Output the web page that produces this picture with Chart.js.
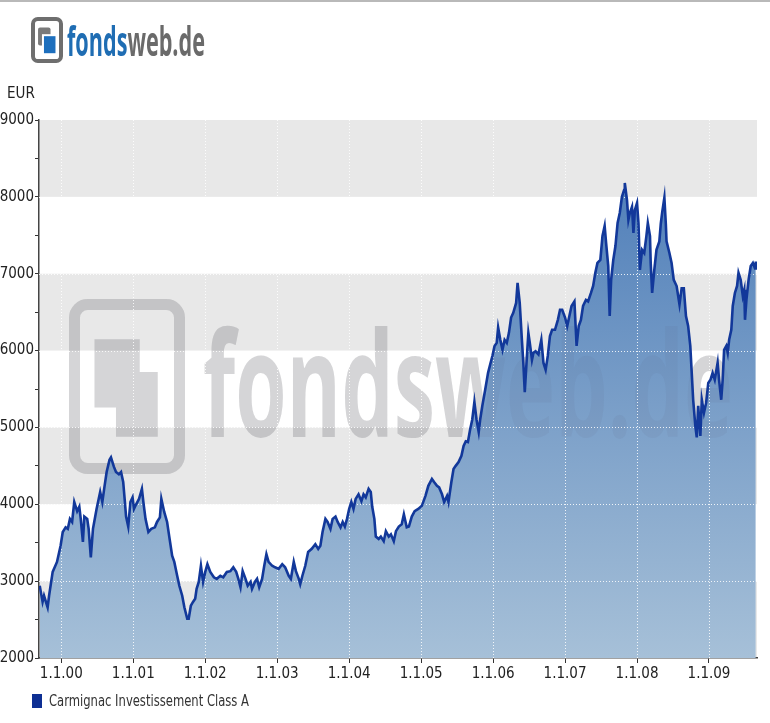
<!DOCTYPE html>
<html>
<head>
<meta charset="utf-8">
<script src="https://cdn.jsdelivr.net/npm/chart.js@4.4.0/dist/chart.umd.min.js"></script>
<style>
  html, body { margin: 0; padding: 0; background: #fff; }
  #wrap { width: 770px; height: 723px; position: relative; }
</style>
</head>
<body>
<div id="wrap"><canvas id="fundChart"></canvas></div>
<script>
var fundName = "Carmignac Investissement Class A";
var currencyLabel = "EUR";
var brandText = ["fonds", "web.de"];
var yearTicks = [2000, 2001, 2002, 2003, 2004, 2005, 2006, 2007, 2008, 2009];

// decimal years
var dates = [
  1999.70,1999.74,1999.76,1999.81,1999.83,1999.88,1999.94,1999.99,
  2000.02,2000.06,2000.09,2000.12,2000.15,2000.18,2000.22,2000.25,2000.27,2000.30,2000.32,2000.36,2000.38,2000.41,2000.44,2000.49,2000.54,2000.57,2000.60,2000.63,2000.67,2000.69,2000.73,2000.76,2000.80,2000.83,2000.86,2000.88,2000.90,2000.93,2000.96,2000.99,
  2001.01,2001.04,2001.08,2001.12,2001.14,2001.17,2001.21,2001.25,2001.30,2001.33,2001.37,2001.39,2001.43,2001.47,2001.50,2001.54,2001.57,2001.61,2001.64,2001.68,2001.71,2001.75,2001.77,2001.80,2001.83,2001.86,2001.88,2001.91,2001.94,2001.97,
  2002.00,2002.03,2002.07,2002.12,2002.16,2002.21,2002.25,2002.30,2002.35,2002.39,2002.43,2002.46,2002.49,2002.52,2002.56,2002.59,2002.63,2002.65,2002.69,2002.72,2002.75,2002.79,2002.82,2002.85,2002.88,2002.93,2002.97,
  2003.02,2003.07,2003.11,2003.16,2003.19,2003.23,2003.26,2003.30,2003.32,2003.35,2003.39,2003.43,2003.48,2003.53,2003.57,2003.60,2003.63,2003.67,2003.70,2003.74,2003.77,2003.81,2003.84,2003.88,2003.91,2003.94,2003.97,
  2004.00,2004.03,2004.06,2004.09,2004.13,2004.17,2004.20,2004.23,2004.27,2004.30,2004.32,2004.35,2004.37,2004.41,2004.44,2004.48,2004.51,2004.55,2004.58,2004.62,2004.65,2004.69,2004.73,2004.76,2004.80,2004.83,2004.87,2004.91,2004.96,
  2005.01,2005.06,2005.10,2005.15,2005.18,2005.22,2005.25,2005.29,2005.32,2005.36,2005.38,2005.42,2005.45,2005.48,2005.52,2005.56,2005.59,2005.62,2005.65,2005.68,2005.71,2005.74,2005.77,2005.80,2005.82,2005.85,2005.89,2005.93,2005.96,2005.99,
  2006.02,2006.05,2006.07,2006.10,2006.13,2006.16,2006.19,2006.22,2006.25,2006.28,2006.32,2006.34,2006.37,2006.40,2006.42,2006.44,2006.47,2006.49,2006.51,2006.54,2006.56,2006.59,2006.63,2006.67,2006.70,2006.73,2006.76,2006.79,2006.82,2006.86,2006.90,2006.93,2006.96,
  2007.00,2007.03,2007.06,2007.09,2007.13,2007.16,2007.19,2007.22,2007.25,2007.29,2007.32,2007.36,2007.39,2007.42,2007.45,2007.49,2007.52,2007.55,2007.57,2007.60,2007.62,2007.64,2007.67,2007.70,2007.73,2007.76,2007.79,2007.82,2007.83,2007.86,2007.88,2007.90,2007.93,2007.95,2007.97,
  2008.00,2008.02,2008.04,2008.07,2008.10,2008.13,2008.15,2008.18,2008.19,2008.21,2008.24,2008.27,2008.31,2008.33,2008.35,2008.38,2008.40,2008.41,2008.45,2008.48,2008.51,2008.55,2008.59,2008.62,2008.65,2008.68,2008.71,2008.74,2008.76,2008.78,2008.81,2008.83,2008.85,2008.88,2008.90,2008.93,2008.96,2008.99,
  2009.02,2009.05,2009.08,2009.12,2009.14,2009.17,2009.19,2009.21,2009.24,2009.26,2009.28,2009.31,2009.33,2009.36,2009.39,2009.41,2009.44,2009.47,2009.49,2009.50,2009.52,2009.55,2009.58,2009.61,2009.64,2009.65
];

// fund price in EUR
var prices = [
  2940,2730,2810,2660,2810,3120,3250,3460,
  3640,3700,3680,3810,3770,4030,3910,3970,3810,3510,3840,3810,3680,3310,3680,3940,4160,4030,4230,4420,4580,4610,4490,4420,4390,4420,4290,4070,3840,3710,4030,4090,
  3940,4000,4070,4200,4030,3810,3640,3680,3700,3770,3830,4070,3900,3770,3580,3330,3250,3070,2940,2810,2660,2510,2510,2680,2730,2770,2900,2990,3200,2990,
  3120,3220,3120,3050,3030,3070,3050,3120,3130,3180,3120,3030,2920,3130,3030,2940,2990,2900,2990,3030,2920,3030,3200,3350,3250,3200,3180,
  3160,3220,3180,3070,3030,3250,3130,3030,2960,3070,3200,3380,3420,3480,3420,3460,3640,3810,3770,3680,3810,3840,3770,3700,3770,3710,3810,
  3940,4030,3940,4070,4130,4040,4130,4090,4200,4160,3970,3810,3580,3550,3580,3520,3650,3580,3610,3520,3650,3710,3740,3870,3700,3710,3840,3910,3940,
  3980,4110,4240,4330,4290,4240,4220,4130,4030,4110,4030,4290,4460,4500,4550,4630,4760,4820,4810,4970,5100,5330,5100,4940,5100,5280,5490,5710,5820,5930,
  6060,6100,6300,6140,6010,6140,6100,6230,6430,6490,6620,6880,6620,6140,5840,5460,5930,6230,6100,5880,5970,5990,5950,6140,5840,5750,5930,6190,6270,6270,6400,6530,6530,
  6430,6320,6450,6580,6640,6060,6320,6400,6580,6660,6640,6750,6840,7010,7140,7180,7490,7620,7400,7100,6450,6920,7180,7360,7660,7790,8000,8090,8180,7960,7700,7790,7870,7530,7830,
  7920,7660,7050,7310,7270,7490,7660,7490,7140,6750,7050,7310,7420,7650,7800,7990,7650,7420,7270,7140,6920,6840,6600,6810,6810,6450,6320,6060,5710,5360,5020,4870,5280,4890,5360,5190,5320,5580,
  5620,5710,5620,5840,5620,5360,5620,6010,6060,5970,6140,6270,6580,6750,6840,7010,6920,6710,6790,6400,6660,6920,7100,7140,7070,7160
];

var narrowFont = '"Liberation Sans Narrow", "DejaVu Sans Condensed", Arial, sans-serif';
var brandFont = '"Open Sans", "DejaVu Sans", sans-serif';
var lineColor = '#12389a';

function drawIcon(ctx, x, y, w, h, stroke, outline, back, front, gap){
    ctx.lineWidth = stroke;
    ctx.strokeStyle = outline;
    ctx.beginPath();
    ctx.roundRect(x + stroke / 2, y + stroke / 2, w - stroke, h - stroke, stroke * 1.2);
    ctx.stroke();
    if (gap) {
        ctx.fillStyle = back;
        ctx.beginPath();
        ctx.roundRect(x + w * 0.22, y + h * 0.23, w * 0.39, h * 0.39, 2);
        ctx.fill();
        ctx.fillStyle = gap;
        ctx.fillRect(x + w * 0.405 - 2, y + h * 0.417 - 2, w * 0.36 + 4, h * 0.37 + 4);
        ctx.fillStyle = front;
        ctx.fillRect(x + w * 0.405, y + h * 0.417, w * 0.36, h * 0.37);
    } else {
        ctx.fillStyle = back;
        ctx.beginPath();
        ctx.rect(x + w * 0.22, y + h * 0.23, w * 0.39, h * 0.39);
        ctx.rect(x + w * 0.405, y + h * 0.417, w * 0.36, h * 0.37);
        ctx.fill();
    }
}

function drawBrandText(ctx, x, baseline, size, width, colors){
    ctx.save();
    ctx.font = 'bold ' + size + 'px ' + brandFont;
    ctx.textBaseline = 'alphabetic';
    ctx.textAlign = 'left';
    var full = ctx.measureText(brandText.join('')).width;
    ctx.translate(x, baseline);
    ctx.scale(width / full, 1);
    ctx.fillStyle = colors[0];
    ctx.fillText(brandText[0], 0, 0);
    ctx.fillStyle = colors[1];
    ctx.fillText(brandText[1], ctx.measureText(brandText[0]).width, 0);
    ctx.restore();
}

function drawWatermark(ctx, col){
    drawIcon(ctx, 69, 299, 116, 175, 11, col, col, null, null);
    drawBrandText(ctx, 203, 437, 145, 530, [col, col]);
}

var decorPlugin = {
    id: 'decor',
    beforeDraw: function(chart){
        var ctx = chart.ctx, a = chart.chartArea, y = chart.scales.y;
        ctx.save();
        ctx.fillStyle = '#b9b9b9';
        ctx.fillRect(0, 0, chart.width, 2);
        // alternating bands every 1000
        for (var v = y.min; v < y.max; v += 1000) {
            if (((v - y.min) / 1000) % 2 === 0) {
                var top = y.getPixelForValue(v + 1000), bot = y.getPixelForValue(v);
                ctx.fillStyle = '#e8e8e8';
                ctx.fillRect(a.left, top, a.right - a.left, bot - top);
            }
        }
        ctx.beginPath();
        ctx.rect(a.left, a.top, a.right - a.left, a.bottom - a.top);
        ctx.clip();
        drawWatermark(ctx, 'rgba(110,110,110,0.22)');
        ctx.restore();

        ctx.save();
        // logo
        drawIcon(ctx, 31, 17, 32, 46, 4, '#6e6e6e', '#7a7a7a', '#1d6fbd', '#ffffff');
        drawBrandText(ctx, 67, 56, 42, 138, ['#1f6db3', '#6a6a6a']);
        // unit label
        ctx.fillStyle = '#222';
        ctx.font = '15px ' + narrowFont;
        ctx.textBaseline = 'alphabetic';
        ctx.fillText(currencyLabel, 7, 98);
        ctx.restore();
    },
    beforeDatasetsDraw: function(chart){
        var ctx = chart.ctx, a = chart.chartArea, x = chart.scales.x, y = chart.scales.y;
        ctx.save();
        ctx.beginPath();
        ctx.rect(a.left, a.top, a.right - a.left, a.bottom - a.top);
        ctx.clip();
        // faint watermark showing through the fill
        drawWatermark(ctx, 'rgba(90,90,110,0.07)');
        // dotted white grid over the fill
        ctx.strokeStyle = 'rgba(255,255,255,0.85)';
        ctx.lineWidth = 1;
        ctx.setLineDash([1, 2]);
        yearTicks.forEach(function(t){
            var px = Math.round(x.getPixelForValue(t)) + 0.5;
            ctx.beginPath(); ctx.moveTo(px, a.top); ctx.lineTo(px, a.bottom); ctx.stroke();
        });
        for (var v = y.min + 1000; v < y.max; v += 1000) {
            var py = Math.round(y.getPixelForValue(v)) + 0.5;
            ctx.beginPath(); ctx.moveTo(a.left, py); ctx.lineTo(a.right, py); ctx.stroke();
        }
        ctx.restore();
    },
    afterDraw: function(chart){
        var ctx = chart.ctx;
        ctx.save();
        ctx.fillStyle = '#0e2f93';
        ctx.fillRect(32, 694, 10, 14);
        ctx.fillStyle = '#333';
        ctx.font = '15px ' + narrowFont;
        ctx.textBaseline = 'middle';
        var label = chart.data.datasets[0].label;
        var w = ctx.measureText(label).width;
        ctx.translate(49, 702);
        ctx.scale(Math.min(1, 200 / w), 1);
        ctx.fillText(label, 0, 0);
        ctx.restore();
    }
};

var points = dates.map(function(d, i){ return {x: d, y: prices[i]}; });

new Chart(document.getElementById('fundChart').getContext('2d'), {
    type: 'line',
    data: {
        datasets: [{
            label: fundName,
            data: points,
            borderColor: lineColor,
            borderWidth: 2.6,
            pointRadius: 0,
            tension: 0,
            fill: 'start',
            backgroundColor: function(context){
                var a = context.chart.chartArea;
                if (!a) return '#7aa3cb';
                var g = context.chart.ctx.createLinearGradient(0, a.top, 0, a.bottom);
                g.addColorStop(0, '#4778b6');
                g.addColorStop(1, '#a6c0d8');
                return g;
            }
        }]
    },
    options: {
        responsive: true,
        maintainAspectRatio: false,
        animation: false,
        events: [],
        layout: { padding: { top: 120, right: 13, bottom: 35, left: 0 } },
        plugins: {
            legend: { display: false },
            tooltip: { enabled: false },
            filler: { drawTime: 'beforeDatasetsDraw' }
        },
        scales: {
            x: {
                type: 'linear',
                min: 1999.69,
                max: 2009.667,
                afterBuildTicks: function(scale){
                    scale.ticks = yearTicks.map(function(t){ return {value: t}; });
                },
                afterFit: function(scale){ scale.height = 30; },
                ticks: {
                    autoSkip: false,
                    maxRotation: 0,
                    padding: 2,
                    color: '#222',
                    font: { family: narrowFont, size: 15 },
                    callback: function(v){ return '1.1.' + String(v % 100).padStart(2, '0'); }
                },
                grid: { display: true, drawOnChartArea: false, drawTicks: true, tickLength: 5, color: '#333' },
                border: { display: true, color: '#444', width: 1.5 }
            },
            y: {
                min: 2000,
                max: 9000,
                afterFit: function(scale){ scale.width = 39; },
                ticks: {
                    stepSize: 500,
                    autoSkip: false,
                    padding: 1,
                    color: '#222',
                    font: { family: narrowFont, size: 15 },
                    callback: function(v){ return v % 1000 === 0 ? String(v) : ''; }
                },
                grid: { display: true, drawOnChartArea: false, drawTicks: true, tickLength: 4, color: '#333' },
                border: { display: true, color: '#444', width: 1.5 }
            }
        }
    },
    plugins: [decorPlugin]
});
</script>
</body>
</html>
